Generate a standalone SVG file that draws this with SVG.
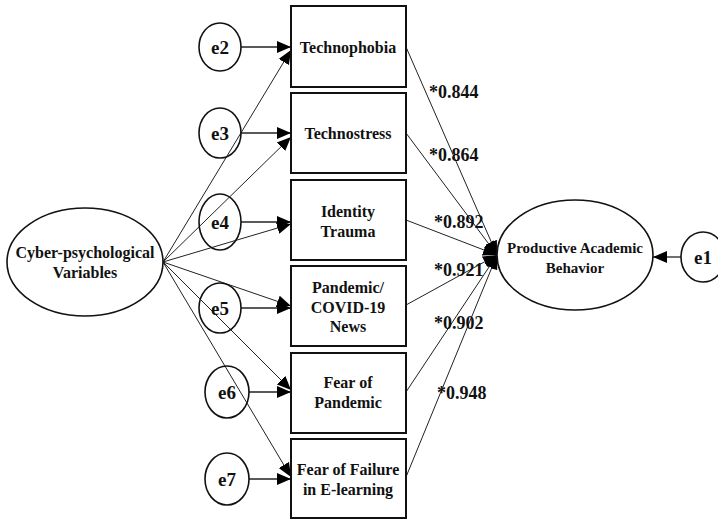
<svg xmlns="http://www.w3.org/2000/svg" width="718" height="520" viewBox="0 0 718 520">
<style>
.box{fill:#fff;stroke:#111;stroke-width:2}
.ell{fill:#fff;stroke:#111;stroke-width:1.6}
.t{font-family:'Liberation Serif','Times New Roman','DejaVu Serif',serif;font-weight:bold;fill:#111;text-anchor:middle}
.bt{font-size:16px}
.et{font-size:19px}
.lt{font-size:18px;text-anchor:start}
.c{stroke:#222;stroke-width:1;fill:none}
.ca{stroke:#222;stroke-width:1.3;fill:none;marker-end:url(#ah)}
</style>
<defs>
<marker id="ah" markerUnits="userSpaceOnUse" markerWidth="14" markerHeight="14" viewBox="0 0 14 14" refX="14" refY="7" orient="auto">
<path d="M0,1 L14,7 L0,13 z" fill="#000"/>
</marker>
</defs>
<rect width="718" height="520" fill="#fff"/>
<g id="connectors">
<line class="c" x1="163" y1="262" x2="291" y2="50" marker-end="url(#ah)"/>
<line class="c" x1="163" y1="262" x2="291" y2="137" marker-end="url(#ah)"/>
<line class="c" x1="163" y1="262" x2="291" y2="224" marker-end="url(#ah)"/>
<line class="c" x1="163" y1="262" x2="291" y2="306" marker-end="url(#ah)"/>
<line class="c" x1="163" y1="262" x2="291" y2="390" marker-end="url(#ah)"/>
<line class="c" x1="163" y1="262" x2="291" y2="477" marker-end="url(#ah)"/>
<line class="ca" x1="241" y1="47" x2="291" y2="47"/>
<line class="ca" x1="241" y1="133" x2="291" y2="133"/>
<line class="ca" x1="241" y1="222" x2="291" y2="222"/>
<line class="ca" x1="241" y1="308" x2="291" y2="308"/>
<line class="ca" x1="249" y1="392" x2="291" y2="392"/>
<line class="ca" x1="249" y1="479" x2="291" y2="479"/>
<line class="c" x1="406" y1="47" x2="497" y2="255" marker-end="url(#ah)"/>
<line class="c" x1="406" y1="133" x2="497" y2="255" marker-end="url(#ah)"/>
<line class="c" x1="406" y1="220" x2="497" y2="255" marker-end="url(#ah)"/>
<line class="c" x1="406" y1="305" x2="497" y2="255" marker-end="url(#ah)"/>
<line class="c" x1="406" y1="392" x2="497" y2="255" marker-end="url(#ah)"/>
<line class="c" x1="406" y1="477" x2="497" y2="255" marker-end="url(#ah)"/>
<line class="ca" x1="681" y1="257" x2="653" y2="257"/>
<text class="t lt" x="429" y="98">*0.844</text>
<text class="t lt" x="429" y="161">*0.864</text>
<text class="t lt" x="434" y="228">*0.892</text>
<text class="t lt" x="434" y="276">*0.921</text>
<text class="t lt" x="434" y="329">*0.902</text>
<text class="t lt" x="437" y="399">*0.948</text>
</g>
<g id="cyber">
<ellipse class="ell" cx="85" cy="262" rx="78" ry="54"/>
<text class="t bt" x="85" y="258">Cyber-psychological</text>
<text class="t bt" x="85" y="278">Variables</text>
</g>
<g id="pab">
<ellipse class="ell" cx="575" cy="255" rx="78" ry="55"/>
<text class="t" style="font-size:15px" x="575" y="253">Productive Academic</text>
<text class="t" style="font-size:15px" x="575" y="273">Behavior</text>
</g>
<g id="e1"><ellipse class="ell" cx="703" cy="257" rx="22" ry="25"/><text class="t et" x="703" y="264">e1</text></g>
<g id="e2"><ellipse class="ell" cx="220" cy="47" rx="21" ry="24"/><text class="t et" x="220" y="54">e2</text></g>
<g id="e3"><ellipse class="ell" cx="220" cy="133" rx="21" ry="25" style="fill:none"/><text class="t et" x="220" y="140">e3</text></g>
<g id="e4"><ellipse class="ell" cx="220" cy="222" rx="21" ry="28" style="fill:none"/><text class="t et" x="220" y="229">e4</text></g>
<g id="e5"><ellipse class="ell" cx="220" cy="308" rx="21" ry="25" style="fill:none"/><text class="t et" x="220" y="315">e5</text></g>
<g id="e6"><ellipse class="ell" cx="227" cy="392" rx="22" ry="26" style="fill:none"/><text class="t et" x="227" y="399">e6</text></g>
<g id="e7"><ellipse class="ell" cx="227" cy="479" rx="22" ry="26"/><text class="t et" x="227" y="486">e7</text></g>
<g id="technophobia"><rect class="box" x="291" y="6" width="115" height="81"/><text class="t bt" x="348" y="53">Technophobia</text></g>
<g id="technostress"><rect class="box" x="291" y="93" width="115" height="80"/><text class="t bt" x="348" y="139">Technostress</text></g>
<g id="identity"><rect class="box" x="291" y="180" width="115" height="80"/><text class="t bt" x="348" y="217">Identity</text><text class="t bt" x="348" y="237">Trauma</text></g>
<g id="pandemic-news"><rect class="box" x="291" y="266" width="115" height="80"/><text class="t bt" x="348" y="293">Pandemic/</text><text class="t bt" x="348" y="313">COVID-19</text><text class="t bt" x="348" y="332">News</text></g>
<g id="fear-pandemic"><rect class="box" x="291" y="353" width="115" height="80"/><text class="t bt" x="348" y="388">Fear of</text><text class="t bt" x="348" y="408">Pandemic</text></g>
<g id="fear-failure"><rect class="box" x="291" y="439" width="115" height="79"/><text class="t bt" x="348" y="475">Fear of Failure</text><text class="t bt" x="348" y="495">in E-learning</text></g>
</svg>
